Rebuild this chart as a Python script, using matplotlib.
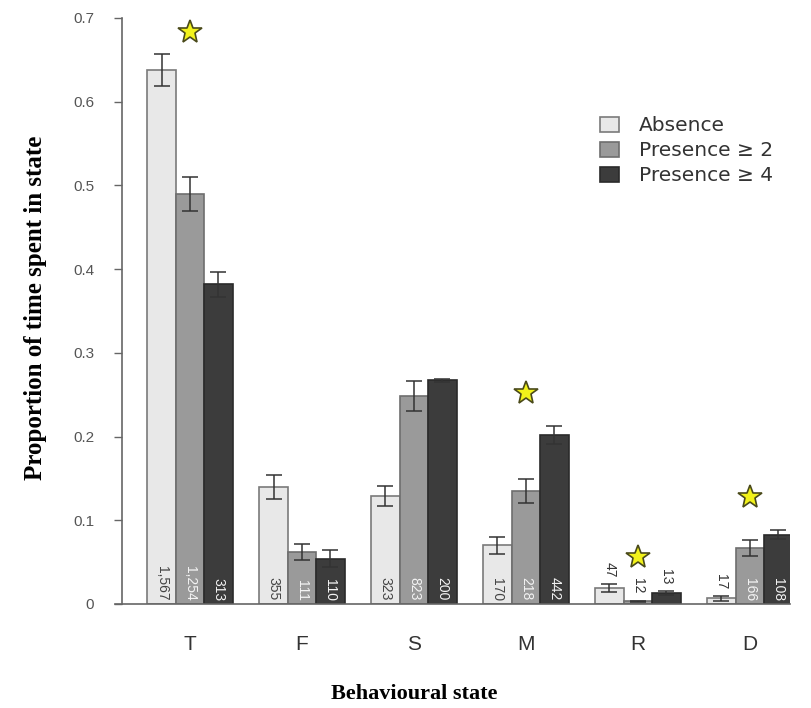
import matplotlib
matplotlib.use("Agg")
import matplotlib.pyplot as plt
import numpy as np

# Behavioural states and the three conditions
states = ["T", "F", "S", "M", "R", "D"]
conditions = ["Absence", "Presence \u2265 2", "Presence \u2265 4"]

# Mean proportion of time spent in each state
absence = [0.638, 0.140, 0.129, 0.070, 0.019, 0.007]
presence2 = [0.490, 0.062, 0.248, 0.135, 0.003, 0.067]
presence4 = [0.382, 0.054, 0.267, 0.202, 0.013, 0.083]

# Standard errors
absence_err = [0.019, 0.014, 0.012, 0.010, 0.005, 0.003]
presence2_err = [0.020, 0.010, 0.018, 0.014, 0.001, 0.010]
presence4_err = [0.015, 0.010, 0.002, 0.011, 0.002, 0.005]

# Sample sizes printed on the bars
absence_n = ["1,567", "355", "323", "170", "47", "17"]
presence2_n = ["1,254", "111", "823", "218", "12", "166"]
presence4_n = ["313", "110", "200", "442", "13", "108"]

# Significant differences (star heights)
star_states = ["T", "M", "R", "D"]
star_y = [0.683, 0.252, 0.056, 0.128]

values = [absence, presence2, presence4]
errors = [absence_err, presence2_err, presence4_err]
counts = [absence_n, presence2_n, presence4_n]
fills = ["#e8e8e8", "#9a9a9a", "#3c3c3c"]
edges = ["#7a7a7a", "#6e6e6e", "#2a2a2a"]
text_cols = ["#444444", "#f4f4f4", "#f4f4f4"]

plt.rcParams["font.family"] = ["Liberation Sans", "DejaVu Sans"]
serif = ["Liberation Serif", "DejaVu Serif"]

fig = plt.figure(figsize=(8.11, 7.08), dpi=100)
ax = fig.add_axes([0.1504, 0.1469, 0.8236, 0.8277])

x = np.arange(len(states))
width = 0.254
offsets = [-width, 0.0, width]

for k in range(3):
    xs = x + offsets[k]
    ax.bar(xs, values[k], width=width, color=fills[k], edgecolor=edges[k],
           linewidth=1.2, label=conditions[k], zorder=2)
    ax.errorbar(xs, values[k], yerr=errors[k], fmt="none", ecolor="#333333",
                elinewidth=1.1, capsize=5.5, capthick=1.1, zorder=3)
    for i in range(len(states)):
        v = values[k][i]
        if v < 0.03:
            ax.text(xs[i], v + errors[k][i] + 0.008, counts[k][i], rotation=-90,
                    ha="center", va="bottom", fontsize=10, color="#333333",
                    zorder=4)
        else:
            ax.text(xs[i], 0.004, counts[k][i], rotation=-90, ha="center",
                    va="bottom", fontsize=10, color=text_cols[k], zorder=4)

star_x = [states.index(s) for s in star_states]
ax.plot(star_x, star_y, linestyle="none", marker="*", markersize=18,
        markerfacecolor="#f2f21a", markeredgecolor="#4a4a1a",
        markeredgewidth=1.2, zorder=5)

ax.set_xlim(-0.607, 5.357)
ax.set_ylim(0, 0.7)
ax.set_xticks(x)
ax.set_xticklabels(states, fontsize=15, color="#333333")
ax.set_yticks(np.arange(0, 0.71, 0.1))
ax.set_yticklabels(["0", "0.1", "0.2", "0.3", "0.4", "0.5", "0.6", "0.7"],
                   fontsize=11, color="#555555")
ax.tick_params(axis="x", length=0, pad=22)
ax.tick_params(axis="y", length=6, width=1, color="#666666", pad=14)

for side in ["top", "right", "bottom"]:
    ax.spines[side].set_visible(False)
ax.spines["left"].set_color("#666666")
ax.spines["left"].set_linewidth(1.2)
# baseline running slightly past the y axis
ax.plot([-0.67, 5.357], [0, 0], color="#666666", linewidth=1.2,
        clip_on=False, zorder=6)

ax.set_xlabel("Behavioural state", fontsize=16, fontweight="bold",
              family=serif)
ax.xaxis.set_label_coords(0.438, -0.137)
ax.set_ylabel("Proportion of time spent in state", fontsize=18,
              fontweight="bold", family=serif)
ax.yaxis.set_label_coords(-0.112, 0.505)

leg = ax.legend(loc="upper left", bbox_to_anchor=(0.688, 0.863), frameon=False,
                prop={"family": "DejaVu Sans", "size": 14.5},
                handlelength=0.95, handleheight=0.8,
                handletextpad=1.0, labelspacing=0.3)
for t in leg.get_texts():
    t.set_color("#333333")

fig.savefig("out.png", dpi=100)
